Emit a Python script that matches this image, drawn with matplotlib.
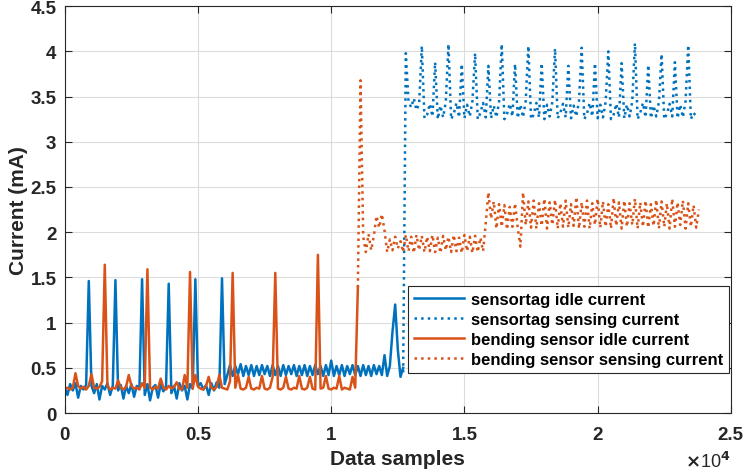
import numpy as np
import matplotlib
matplotlib.use('Agg')
import matplotlib.pyplot as plt

plt.rcParams['font.family'] = ['Liberation Sans', 'DejaVu Sans']
plt.rcParams['font.weight'] = 'bold'

# sample spacing of the hand-read values
step = 100

# sensortag idle current, starts at sample 0
tag_idle_start = 0
tag_idle = [0.28, 0.20, 0.32, 0.25, 0.33, 0.17, 0.30, 0.26, 0.31, 1.46,
            0.30, 0.22, 0.32, 0.15, 0.30, 0.26, 0.33, 0.20, 0.30, 1.47,
            0.25, 0.31, 0.16, 0.30, 0.22, 0.32, 0.18, 0.30, 0.27, 1.48,
            0.20, 0.32, 0.14, 0.28, 0.31, 0.17, 0.32, 0.24, 0.30, 1.43,
            0.22, 0.30, 0.16, 0.33, 0.25, 0.30, 0.15, 0.32, 0.27, 1.48,
            0.30, 0.33, 0.26, 0.31, 0.20, 0.33, 0.25, 0.34, 0.28, 1.49,
            0.32, 0.42, 0.53, 0.41, 0.52, 0.43, 0.54, 0.41, 0.52, 0.42,
            0.53, 0.41, 0.52, 0.42, 0.53, 0.43, 0.52, 0.41, 0.53, 0.42,
            0.52, 0.41, 0.53, 0.42, 0.52, 0.43, 0.53, 0.41, 0.52, 0.42,
            0.53, 0.41, 0.52, 0.42, 0.53, 0.43, 0.52, 0.41, 0.53, 0.42,
            0.58, 0.41, 0.52, 0.42, 0.53, 0.41, 0.52, 0.43, 0.53, 0.42,
            0.52, 0.41, 0.53, 0.42, 0.52, 0.41, 0.53, 0.43, 0.52, 0.42,
            0.64, 0.41, 0.52, 0.90, 1.20, 0.70, 0.40, 0.50]

# sensortag sensing current, starts at sample 12700
tag_sense_start = 12700
tag_sense = [0.45, 3.98, 3.45, 3.38, 3.48, 3.35, 3.42, 4.06, 3.26, 3.30,
             3.42, 3.28, 3.88, 3.25, 3.40, 3.27, 3.44, 4.08, 3.25, 3.31,
             3.43, 3.27, 3.86, 3.26, 3.41, 3.28, 3.45, 3.98, 3.25, 3.32,
             3.43, 3.27, 3.84, 3.26, 3.40, 3.27, 3.44, 4.08, 3.25, 3.31,
             3.42, 3.28, 3.86, 3.26, 3.41, 3.27, 3.45, 4.06, 3.25, 3.30,
             3.43, 3.27, 3.87, 3.25, 3.41, 3.28, 3.44, 4.03, 3.26, 3.32,
             3.42, 3.27, 3.84, 3.26, 3.40, 3.28, 3.45, 4.04, 3.25, 3.31,
             3.43, 3.28, 3.87, 3.26, 3.41, 3.27, 3.44, 4.00, 3.25, 3.30,
             3.42, 3.27, 3.87, 3.26, 3.41, 3.28, 3.45, 4.09, 3.25, 3.32,
             3.43, 3.27, 3.85, 3.26, 3.40, 3.28, 3.44, 3.97, 3.25, 3.31,
             3.42, 3.28, 3.88, 3.26, 3.41, 3.27, 3.45, 4.07, 3.25, 3.32,
             3.28]

# bending sensor idle current, starts at sample 0
bend_idle_start = 0
bend_idle = [0.27, 0.28, 0.26, 0.28, 0.44, 0.30, 0.27, 0.29, 0.26, 0.30,
             0.43, 0.28, 0.27, 0.29, 0.35, 1.64, 0.30, 0.26, 0.28, 0.27,
             0.36, 0.28, 0.26, 0.29, 0.42, 0.30, 0.27, 0.28, 0.26, 0.33,
             0.28, 1.59, 0.28, 0.26, 0.29, 0.27, 0.38, 0.28, 0.26, 0.30,
             0.27, 0.29, 0.34, 0.27, 0.26, 0.42, 0.28, 1.56, 0.27, 0.42,
             0.29, 0.27, 0.26, 0.30, 0.40, 0.28, 0.26, 0.29, 0.42, 0.28,
             0.27, 0.26, 0.35, 1.55, 0.28, 0.42, 0.27, 0.26, 0.28, 0.40,
             0.27, 0.26, 0.28, 0.27, 0.41, 0.27, 0.26, 0.28, 0.40, 1.55,
             0.27, 0.26, 0.28, 0.40, 0.27, 0.26, 0.28, 0.27, 0.41, 0.27,
             0.26, 0.28, 0.40, 0.27, 0.26, 1.75, 0.27, 0.28, 0.41, 0.27,
             0.26, 0.28, 0.27, 0.41, 0.26, 0.28, 0.27, 0.26, 0.40, 0.28,
             1.39]

# bending sensor sensing current, starts at sample 11000
bend_sense_start = 11000
bend_sense = [1.39, 3.68, 1.95, 1.78, 1.98, 1.80, 1.96, 2.18, 2.05, 2.20,
              2.02, 1.78, 1.92, 1.80, 1.95, 1.82, 1.90, 1.78, 1.97, 1.79,
              1.95, 1.77, 1.97, 1.80, 1.96, 1.78, 1.95, 1.79, 1.97, 1.78,
              1.94, 1.77, 1.96, 1.80, 1.95, 1.78, 1.97, 1.79, 1.94, 1.77,
              1.97, 1.79, 1.95, 1.77, 1.96, 1.78, 1.94, 1.79, 2.10, 2.44,
              2.15, 2.34, 2.04, 2.31, 2.06, 2.30, 2.03, 2.28, 2.06, 2.32,
              2.05, 1.84, 2.44, 2.08, 2.34, 2.05, 2.35, 2.04, 2.32, 2.07,
              2.37, 2.04, 2.33, 2.08, 2.36, 2.04, 2.32, 2.06, 2.35, 2.05,
              2.31, 2.07, 2.39, 2.04, 2.33, 2.06, 2.35, 2.04, 2.32, 2.08,
              2.37, 2.05, 2.34, 2.06, 2.31, 2.04, 2.38, 2.07, 2.33, 2.04,
              2.35, 2.06, 2.32, 2.08, 2.37, 2.04, 2.33, 2.06, 2.35, 2.05,
              2.31, 2.07, 2.36, 2.04, 2.34, 2.06, 2.32, 2.04, 2.37, 2.06,
              2.33, 2.08, 2.35, 2.04, 2.32, 2.06, 2.30, 2.05, 2.25]

labels = ['sensortag idle current', 'sensortag sensing current',
          'bending sensor idle current', 'bending sensor sensing current']

xtick_labels = ['0', '0.5', '1', '1.5', '2', '2.5']
ytick_labels = ['0', '0.5', '1', '1.5', '2', '2.5', '3', '3.5', '4', '4.5']

blue = '#0072BD'
orange = '#D95319'
dark = '#262626'

def xs(start, vals):
    return start + step * np.arange(len(vals))

fig = plt.figure(figsize=(7.45, 4.77), dpi=100)
ax = fig.add_axes([0.087, 0.132, 0.894, 0.853])

ax.plot(xs(tag_idle_start, tag_idle), tag_idle, color=blue, lw=1.8, label=labels[0])
ax.plot(xs(tag_sense_start, tag_sense), tag_sense, color=blue, lw=1.8, ls=':', label=labels[1])
ax.plot(xs(bend_idle_start, bend_idle), bend_idle, color=orange, lw=1.8, label=labels[2])
ax.plot(xs(bend_sense_start, bend_sense), bend_sense, color=orange, lw=1.8, ls=':', label=labels[3])

ax.set_xlim(0, 25000)
ax.set_ylim(0, 4.5)
ax.set_xticks(np.linspace(0, 25000, len(xtick_labels)))
ax.set_xticklabels(xtick_labels)
ax.set_yticks(np.linspace(0, 4.5, len(ytick_labels)))
ax.set_yticklabels(ytick_labels)
ax.text(1.0, -0.118, r'$\times$10$^{4}$', transform=ax.transAxes, ha='right', va='center',
        fontsize=13, color=dark, fontweight='normal')

ax.grid(True, color='#dcdcdc', linewidth=0.8)
ax.set_axisbelow(True)
ax.tick_params(direction='in', top=True, right=True, labelsize=13.5, length=5,
               color=dark, labelcolor=dark)
ax.tick_params(axis='x', pad=9)
ax.tick_params(axis='y', pad=6)
for s in ax.spines.values():
    s.set_color(dark)
    s.set_linewidth(0.8)

ax.set_xlabel('Data samples', fontsize=15, fontweight='bold', color=dark, labelpad=5)
ax.set_ylabel('Current (mA)', fontsize=15, fontweight='bold', color=dark, labelpad=2)

leg = ax.legend(loc='lower right', bbox_to_anchor=(0.997, 0.098), fontsize=12,
                frameon=True, fancybox=False, framealpha=1, edgecolor=dark,
                handlelength=3, borderpad=0.35, labelspacing=0.3, handletextpad=0.4,
                borderaxespad=0)
leg.get_frame().set_linewidth(0.8)

plt.savefig('out.png', dpi=100)
